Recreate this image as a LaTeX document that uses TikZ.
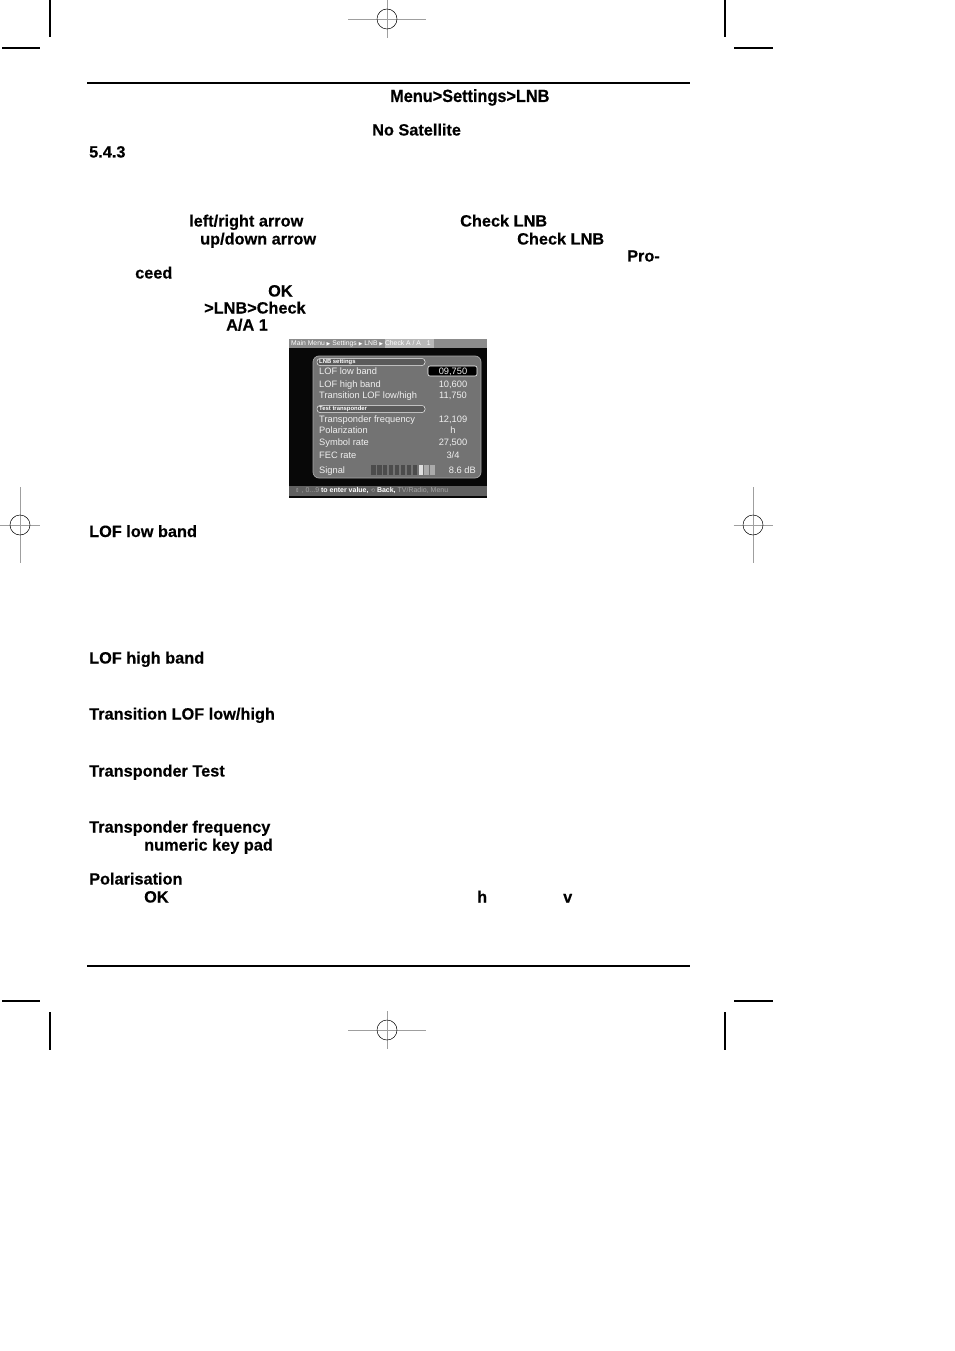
\documentclass[tikz,border=0pt]{standalone}
\usepackage{fontspec}
\setmainfont{Liberation Sans}
\newfontfamily\heavyfont{Liberation Sans}[BoldFeatures={FakeBold=0.4}]
\newfontfamily\symfont{DejaVu Sans}
\definecolor{scrbg}{HTML}{080808}
\definecolor{scrbar}{HTML}{8C8C8C}
\definecolor{scrhi}{HTML}{B8B8B8}
\definecolor{panel}{HTML}{737373}
\definecolor{panelrim}{HTML}{A8A8A8}
\definecolor{scrtext}{HTML}{F0F0F0}
\definecolor{tabfill}{HTML}{5A5A5A}
\definecolor{botbar}{HTML}{606060}
\definecolor{dimtext}{HTML}{A4A4A4}
\definecolor{bardark}{HTML}{4C4C4C}
\definecolor{barlight}{HTML}{E0E0E0}
\definecolor{barmid}{HTML}{ABABAB}
\newcommand\regmark[4]{%
  \draw[hair] (#1-#3,#2) -- (#1+#3,#2);
  \draw[hair] (#1,#2-#4) -- (#1,#2+#4);
  \draw[ring] (#1,#2) circle[radius=10];}
\begin{document}
\begin{tikzpicture}[x=1bp,y=-1bp,
  body/.style={anchor=base west, inner sep=0pt, font=\fontsize{16.3bp}{18bp}\heavyfont\bfseries},
  crop/.style={draw=black, line width=1.1bp},
  hair/.style={draw=gray!75, line width=0.7bp},
  ring/.style={draw=black, line width=0.5bp},
  rule/.style={draw=black, line width=1.1bp},
  scr/.style={anchor=base west, inner sep=0pt, text=scrtext, font=\fontsize{9.3bp}{10bp}\selectfont},
  val/.style={anchor=base, inner sep=0pt, text=scrtext, font=\fontsize{9.3bp}{10bp}\selectfont},
  tabbox/.style={draw=scrtext, fill=tabfill, line width=0.5bp, rounded corners=3bp},
  tabtext/.style={anchor=west, inner sep=0pt, text=white, font=\fontsize{5.9bp}{6bp}\selectfont\bfseries},
  tiny/.style={anchor=west, inner sep=0pt, font=\fontsize{6.8bp}{7bp}\selectfont},
  sigbar/.style={minimum width=4.3bp, minimum height=10bp, inner sep=0pt, anchor=center}]
\useasboundingbox (0,0) rectangle (954,1351);
\fill[white] (0,0) rectangle (954,1351);
% crop marks
\draw[crop] (50,0) -- (50,37);
\draw[crop] (2,48) -- (40,48);
\draw[crop] (725,0) -- (725,37);
\draw[crop] (734,48) -- (773,48);
\draw[crop] (2,1001) -- (40,1001);
\draw[crop] (734,1001) -- (773,1001);
\draw[crop] (50,1012) -- (50,1050);
\draw[crop] (725,1012) -- (725,1050);
\regmark{387}{19}{39}{19}
\regmark{20}{525}{19.5}{38}
\regmark{753}{525}{19.5}{38}
\regmark{387}{1030}{39}{19}
% rules
\draw[rule] (87,83) -- (690,83);
\draw[rule] (87,966) -- (690,966);
% body texts
\node[anchor=base west, inner sep=0pt] (hdr) at (390,102) {\scalebox{0.92}[1]{\fontsize{17.7bp}{19bp}\heavyfont\bfseries Menu>Settings>LNB}};
\node[body] (nosat) at (372,135.5) {No Satellite};
\node[body] (sec) at (89,157.5) {5.4.3};
\node[body] (lr) at (189,226.5) {left/right arrow};
\node[body] (chk1) at (460,226.5) {Check LNB};
\node[body] (ud) at (200,244.5) {up/down arrow};
\node[body] (chk2) at (517,244.5) {Check LNB};
\node[body] (pro) at (627,261.5) {Pro-};
\node[body] (ceed) at (135,278.5) {ceed};
\node[body] (ok1) at (268,296.5) {OK};
\node[body] (lnbchk) at (204,313.5) {>LNB>Check};
\node[body] (aa) at (226,330.5) {A/A 1};
\node[body] (t1) at (89,537) {LOF low band};
\node[body] (t2) at (89,663.5) {LOF high band};
\node[body] (t3) at (89,719.5) {Transition LOF low/high};
\node[body] (t4) at (89,776.5) {Transponder Test};
\node[body] (t5) at (89,832.5) {Transponder frequency};
\node[body] (t6) at (144,850.5) {numeric key pad};
\node[body] (t7) at (89,884.5) {Polarisation};
\node[body] (ok2) at (144,902.5) {OK};
\node[body] (hh) at (477,902.5) {h};
\node[body] (vv) at (563,902.5) {v};
% screenshot
\fill[scrbg] (289,339) rectangle (487,498);
\fill[scrbar] (289,339) rectangle (487,347.5);
\fill[scrhi] (385,339) rectangle (434,347.5);
\node[tiny, text=white] (crumb) at (291,343.4) {Main Menu {\symfont\fontsize{4.8bp}{5bp}\selectfont ▶} Settings {\symfont\fontsize{4.8bp}{5bp}\selectfont ▶} LNB {\symfont\fontsize{4.8bp}{5bp}\selectfont ▶} Check A / A\hspace{6bp}1};
\draw[fill=panel, draw=panelrim, line width=0.7bp, rounded corners=6bp] (313,356) rectangle (481,478);
\draw[tabbox] (317,358.5) rectangle (425,365.5);
\node[tabtext] (tab1) at (319,362) {LNB settings};
\draw[tabbox] (317,405.5) rectangle (425,412.5);
\node[tabtext] (tab2) at (319,409) {Test transponder};
\draw[fill=black, draw=white, line width=0.6bp, rounded corners=2bp] (428,366) rectangle (477,376);
\node[scr] (r1) at (319,374.6) {LOF low band};
\node[scr] (r2) at (319,387.4) {LOF high band};
\node[scr] (r3) at (319,398.6) {Transition LOF low/high};
\node[scr] (r4) at (319,422.4) {Transponder frequency};
\node[scr] (r5) at (319,433.6) {Polarization};
\node[scr] (r6) at (319,445.6) {Symbol rate};
\node[scr] (r7) at (319,458.2) {FEC rate};
\node[scr] (r8) at (319,473.4) {Signal};
\node[val] (v1) at (453,374.6) {09,750};
\node[val] (v2) at (453,387.4) {10,600};
\node[val] (v3) at (453,398.6) {11,750};
\node[val] (v4) at (453,422.4) {12,109};
\node[val] (v5) at (453,433.6) {h};
\node[val] (v6) at (453,445.6) {27,500};
\node[val] (v7) at (453,458.2) {3/4};
\node[scr, anchor=base east] (v8) at (476,473.4) {8.6 dB};
\foreach \i in {0,...,7}{\node[sigbar, fill=bardark] (sb\i) at (373.5+5.9*\i,470) {};}
\node[sigbar, fill=barlight] (sb8) at (373.5+5.9*8,470) {};
\node[sigbar, fill=barmid] (sb9) at (373.5+5.9*9,470) {};
\node[sigbar, fill=barmid] (sb10) at (373.5+5.9*10,470) {};
\fill[botbar] (289,485.5) rectangle (487,496);
\node[tiny, font=\fontsize{7bp}{7bp}\selectfont] (help) at (295,490.8) {{\color{dimtext}{\symfont\fontsize{5.4bp}{5bp}\selectfont ⇕} , 0...9 }{\color{white}\bfseries to enter value, }{\color{dimtext}{\symfont\fontsize{5.4bp}{5bp}\selectfont ⟲} }{\color{white}\bfseries Back, }{\color{dimtext}TV/Radio, Menu}};
\end{tikzpicture}
\end{document}
